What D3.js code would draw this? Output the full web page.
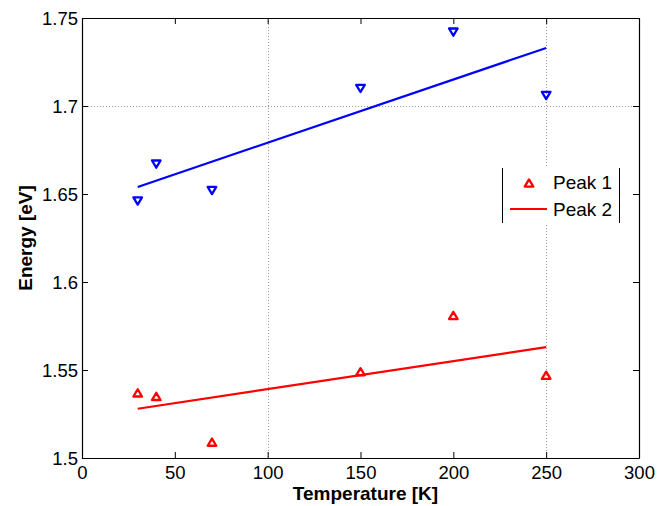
<!DOCTYPE html>
<html>
<head>
<meta charset="utf-8">
<script src="https://cdn.jsdelivr.net/npm/d3@7"></script>
<style>
  html, body { margin: 0; padding: 0; background: #fff; }
  svg { display: block; font-family: "Liberation Sans", Arial, sans-serif; }
</style>
</head>
<body>
<div id="chart"></div>
<script>
  const temperatures = [30, 40, 70, 150, 200, 250];
  const peak1 = [1.537, 1.535, 1.509, 1.549, 1.581, 1.547];
  const peak2 = [1.646, 1.667, 1.652, 1.710, 1.742, 1.706];
  // Linear fits (end points)
  const fitX = [30, 250];
  const fit1 = [1.528, 1.563];
  const fit2 = [1.654, 1.733];

  const xTicks = [0, 50, 100, 150, 200, 250, 300];
  const yTicks = [1.5, 1.55, 1.6, 1.65, 1.7, 1.75];
  const xGrid = [100, 250];
  const yGrid = [1.7];
  const legendLabels = ['Peak 1', 'Peak 2'];

  const width = 657, height = 506;
  const margin = { left: 82, right: 18, top: 18, bottom: 48 };
  const red = '#ff0000', blue = '#0000ff';

  const svg = d3.select('#chart').append('svg')
    .attr('width', width)
    .attr('height', height);

  svg.append('rect').attr('width', width).attr('height', height).attr('fill', '#fff');

  const x = d3.scaleLinear().domain([0, 300]).range([margin.left, width - margin.right]);
  const y = d3.scaleLinear().domain([1.5, 1.75]).range([height - margin.bottom, margin.top]);

  const x0 = x.range()[0], x1 = x.range()[1];
  const y0 = y.range()[0], y1 = y.range()[1];

  // grid (only some lines visible in the original)
  const grid = svg.append('g')
    .attr('stroke', '#999')
    .attr('stroke-width', 1)
    .attr('stroke-dasharray', '1,2');
  grid.selectAll('.gx').data(xGrid).enter().append('line')
    .attr('x1', d => Math.round(x(d)) + 0.5).attr('x2', d => Math.round(x(d)) + 0.5)
    .attr('y1', y1).attr('y2', y0);
  grid.selectAll('.gy').data(yGrid).enter().append('line')
    .attr('y1', d => Math.round(y(d)) + 0.5).attr('y2', d => Math.round(y(d)) + 0.5)
    .attr('x1', x0).attr('x2', x1);

  // axes with inward ticks on all four sides
  const tickLen = 6;
  const fmt = d => String(+d.toFixed(2));

  const xAxisB = d3.axisBottom(x).tickValues(xTicks).tickSizeInner(-tickLen).tickSizeOuter(0)
    .tickPadding(10).tickFormat(fmt);
  const xAxisT = d3.axisTop(x).tickValues(xTicks).tickSizeInner(-tickLen).tickSizeOuter(0).tickFormat('');
  const yAxisL = d3.axisLeft(y).tickValues(yTicks).tickSizeInner(-tickLen).tickSizeOuter(0)
    .tickPadding(10).tickFormat(fmt);
  const yAxisR = d3.axisRight(y).tickValues(yTicks).tickSizeInner(-tickLen).tickSizeOuter(0).tickFormat('');

  function styleAxis(g) {
    g.select('.domain').attr('stroke', '#000').attr('stroke-width', 1.2);
    g.selectAll('.tick line').attr('stroke', '#000').attr('stroke-width', 1);
    g.selectAll('.tick text').attr('fill', '#000').attr('font-size', 18.5)
      .attr('font-family', '"Liberation Sans", Arial, sans-serif');
  }

  svg.append('g').attr('transform', `translate(0,${y0})`).call(xAxisB).call(styleAxis)
    .selectAll('.tick text').attr('dy', null).attr('y', 20.5);
  svg.append('g').attr('transform', `translate(0,${y1})`).call(xAxisT).call(styleAxis);
  svg.append('g').attr('transform', `translate(${x0},0)`).call(yAxisL).call(styleAxis)
    .selectAll('.tick text').attr('x', -4).attr('dy', '0.35em');
  svg.append('g').attr('transform', `translate(${x1},0)`).call(yAxisR).call(styleAxis);

  // fit lines
  const line = d3.line().x(d => x(d[0])).y(d => y(d[1]));
  svg.append('path').datum(fitX.map((t, i) => [t, fit1[i]]))
    .attr('d', line).attr('fill', 'none').attr('stroke', red).attr('stroke-width', 2.2);
  svg.append('path').datum(fitX.map((t, i) => [t, fit2[i]]))
    .attr('d', line).attr('fill', 'none').attr('stroke', blue).attr('stroke-width', 2.2);

  // triangle markers
  function tri(up) {
    const w = 4.3, h = 3.6;
    return up ? `M0,${-h}L${w},${h}L${-w},${h}Z` : `M0,${h}L${w},${-h}L${-w},${-h}Z`;
  }
  svg.append('g').selectAll('path').data(temperatures).enter().append('path')
    .attr('transform', (d, i) => `translate(${x(d)},${y(peak1[i])})`)
    .attr('d', tri(true)).attr('fill', 'none').attr('stroke', red).attr('stroke-width', 2.3)
    .attr('stroke-linejoin', 'round');
  svg.append('g').selectAll('path').data(temperatures).enter().append('path')
    .attr('transform', (d, i) => `translate(${x(d)},${y(peak2[i])})`)
    .attr('d', tri(false)).attr('fill', 'none').attr('stroke', blue).attr('stroke-width', 2.3)
    .attr('stroke-linejoin', 'round');

  // axis titles
  svg.append('text')
    .attr('x', (x0 + x1) / 2 + 5).attr('y', 500)
    .attr('text-anchor', 'middle').attr('font-size', 19).attr('font-weight', 'bold')
    .text('Temperature [K]');
  svg.append('text')
    .attr('transform', `translate(32,${(y0 + y1) / 2}) rotate(-90)`)
    .attr('text-anchor', 'middle').attr('font-size', 19).attr('font-weight', 'bold')
    .text('Energy [eV]');

  // legend (only side borders show in the original)
  const lg = svg.append('g');
  lg.append('rect').attr('x', 502).attr('y', 168).attr('width', 117).attr('height', 55).attr('fill', '#fff');
  lg.append('line').attr('x1', 502.5).attr('x2', 502.5).attr('y1', 168).attr('y2', 223).attr('stroke', '#000');
  lg.append('line').attr('x1', 619.5).attr('x2', 619.5).attr('y1', 168).attr('y2', 223).attr('stroke', '#000');
  lg.append('path').attr('transform', 'translate(529,183)').attr('d', tri(true))
    .attr('fill', 'none').attr('stroke', red).attr('stroke-width', 2.3).attr('stroke-linejoin', 'round');
  lg.append('line').attr('x1', 510).attr('x2', 547).attr('y1', 209).attr('y2', 209)
    .attr('stroke', red).attr('stroke-width', 2.2);
  lg.selectAll('text').data(legendLabels).enter().append('text')
    .attr('x', 553).attr('y', (d, i) => 189 + i * 26.5)
    .attr('font-size', 19).attr('fill', '#000')
    .text(d => d);
</script>
</body>
</html>
